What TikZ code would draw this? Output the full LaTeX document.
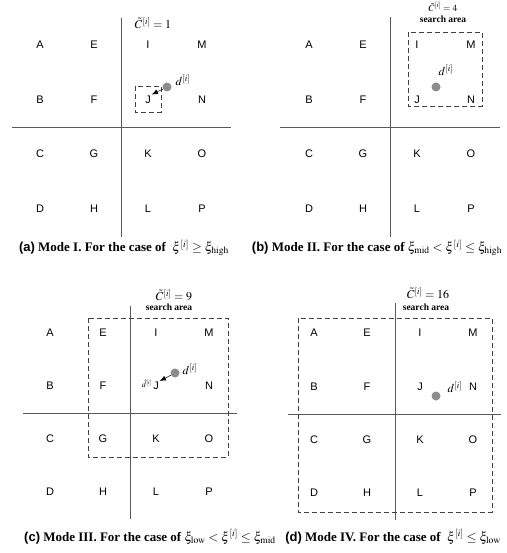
\documentclass[tikz,border=0pt]{standalone}
\usepackage{mathptmx}
\usepackage{fontspec}
\setmainfont{Liberation Serif}
\setsansfont{Liberation Sans}
\usetikzlibrary{arrows.meta}

\tikzset{
  cell/.style={font=\sffamily\fontsize{11}{11}\selectfont, inner sep=1pt},
  axis/.style={draw=black!65, line width=0.8pt},
  area/.style={draw=black!75, dash pattern=on 5pt off 3pt, line width=0.8pt},
  dot/.style={circle, fill=black!45, inner sep=0pt, minimum size=9pt},
  dlabel/.style={font=\fontsize{12}{12}\selectfont, inner sep=0pt},
  title/.style={font=\fontsize{12}{12}\selectfont, inner sep=0pt},
  smalltitle/.style={font=\fontsize{9.5}{9.5}\selectfont, inner sep=0pt},
  areatitle/.style={font=\bfseries\fontsize{9.5}{9.5}\selectfont, inner sep=0pt},
  caption/.style={font=\bfseries\fontsize{13}{13}\selectfont, inner sep=0pt},
  move/.style={-{Latex[length=6pt,width=5pt]}, line width=0.5pt}
}

\begin{document}
\begin{tikzpicture}[x=1pt,y=-1pt]
  \useasboundingbox (0,0) rectangle (506,553);

  % (a) mode I
  \begin{scope}[shift={(121,127)}]
    \draw[axis] (0,-109) -- (0,110);
    \draw[axis] (-109,0) -- (110,0);
    \foreach \l [count=\i from 0] in {A,...,P}
      \node[cell] (a\l) at ({-81+54*int(\i/4)}, {-82+54.5*mod(\i,4)}) {\l};
    \draw[area] (14,-41) rectangle (40,-15);
    \node[dot] (adot) at (46,-40) {};
    \node[dlabel] (ad) at (62,-47) {$d^{[i]}$};
    \draw[move] (adot) -- (aJ.north east);
    \node[title] (atitle) at (32,-104) {$\tilde{C}^{[i]}=1$};
  \end{scope}

  % (b) mode II
  \begin{scope}[shift={(390,127)}]
    \draw[axis] (0,-110) -- (0,110);
    \draw[axis] (-110,0) -- (110,0);
    \foreach \l [count=\i from 0] in {A,...,P}
      \node[cell] (b\l) at ({-81+54*int(\i/4)}, {-82+54.5*mod(\i,4)}) {\l};
    \draw[area] (18,-95) rectangle (92,-21);
    \node[dot] (bdot) at (46,-40) {};
    \node[dlabel] (bd) at (56,-57) {$d^{[i]}$};
    \node[smalltitle] (btitle) at (53,-120) {$\tilde{C}^{[i]}=4$};
    \node[areatitle] (barea) at (53,-108) {search area};
  \end{scope}

  % (c) mode III
  \begin{scope}[shift={(130,413)}]
    \draw[axis] (0,-107) -- (0,106);
    \draw[axis] (-107,0) -- (107,0);
    \foreach \l [count=\i from 0] in {A,...,P}
      \node[cell] (c\l) at ({-80+53*int(\i/4)}, {-80+53*mod(\i,4)}) {\l};
    \draw[area] (-42,-95) rectangle (98,44);
    \node[dot] (cdot) at (45,-40) {};
    \node[dlabel] (cd) at (60,-44) {$d^{[i]}$};
    \draw[move] (cdot) -- (cJ.north east);
    \node[font=\fontsize{8}{8}\selectfont, inner sep=0pt, anchor=east]
      (chat) at ([yshift=2]cJ.west) {$\hat{d}^{[i]}$};
    \node[title] (ctitle) at (44,-118) {$\tilde{C}^{[i]}=9$};
    \node[areatitle] (carea) at (39,-106) {search area};
  \end{scope}

  % (d) mode IV
  \begin{scope}[shift={(395,414)}]
    \draw[axis] (0,-111) -- (0,106);
    \draw[axis] (-107,0) -- (106,0);
    \foreach \l [count=\i from 0] in {A,...,P}
      \node[cell] (d\l) at ({-81+53*int(\i/4)}, {-81+53.3*mod(\i,4)}) {\l};
    \draw[area] (-97,-96) rectangle (97,98);
    \node[dot] (ddot) at (41,-18) {};
    \node[dlabel] (dd) at (60,-27) {$d^{[i]}$};
    \node[title] (dtitle) at (33,-121) {$\tilde{C}^{[i]}=16$};
    \node[areatitle] (darea) at (31,-107) {search area};
  \end{scope}

  % captions
  \node[caption] (capa) at (124,248)
    {{\sffamily (a)} Mode I. For the case of \ $\xi^{[i]} \geq \xi_{\mathrm{high}}$};
  \node[caption] (capb) at (377,248)
    {{\sffamily (b)} Mode II. For the case of $\xi_{\mathrm{mid}} < \xi^{[i]} \leq \xi_{\mathrm{high}}$};
  \node[caption] (capc) at (150,537)
    {{\sffamily (c)} Mode III. For the case of $\xi_{\mathrm{low}} < \xi^{[i]} \leq \xi_{\mathrm{mid}}$};
  \node[caption] (capd) at (393,537)
    {{\sffamily (d)} Mode IV. For the case of \ $\xi^{[i]} \leq \xi_{\mathrm{low}}$};
\end{tikzpicture}
\end{document}
